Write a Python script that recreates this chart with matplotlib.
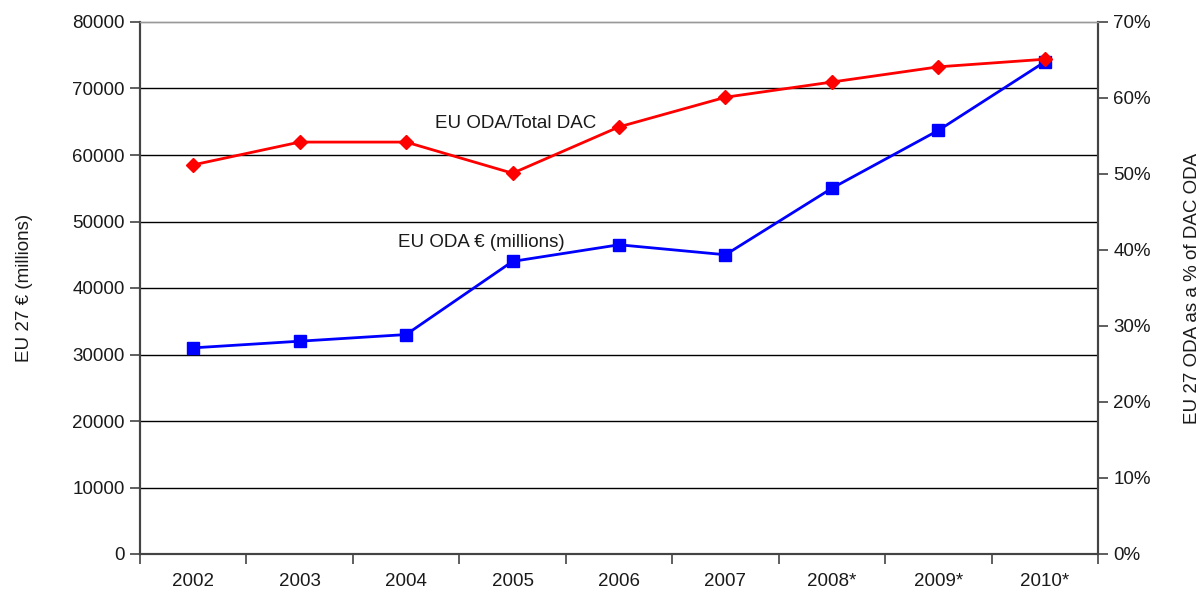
import matplotlib
matplotlib.use("Agg")
import matplotlib.pyplot as plt
from matplotlib.ticker import FixedLocator

plt.rcParams['font.family'] = ['Liberation Sans', 'DejaVu Sans']

years = ['2002', '2003', '2004', '2005', '2006', '2007', '2008*', '2009*', '2010*']
oda_eur = [31000, 32000, 33000, 44000, 46500, 45000, 55000, 63700, 74000]
oda_share = [51.2, 54.2, 54.2, 50.1, 56.2, 60.1, 62.1, 64.1, 65.1]
left_ticks = [0, 10000, 20000, 30000, 40000, 50000, 60000, 70000, 80000]
right_ticks = [0, 10, 20, 30, 40, 50, 60, 70]

txt = '#1a1a1a'
fs = 13.5
fig = plt.figure(figsize=(12.04, 5.92), dpi=100)
ax = fig.add_axes([140/1204, 1-554/592, (1098-140)/1204, (554-22)/592])
ax2 = ax.twinx()

x = list(range(len(years)))
ax.set_xlim(-0.5, len(years)-0.5)
ax.set_ylim(0, 80000)
ax2.set_ylim(0, 70)

for v in left_ticks[1:-1]:
    ax.axhline(v, color='black', lw=1.0, zorder=1)

ax.plot(x, oda_eur, color='#0000ff', lw=2, marker='s', ms=9, zorder=3)
ax2.plot(x, oda_share, color='#ff0000', lw=2, marker='D', ms=7, zorder=4)

ax.set_yticks(left_ticks)
ax.set_yticklabels([str(v) for v in left_ticks])
ax2.set_yticks(right_ticks)
ax2.set_yticklabels([f'{v}%' for v in right_ticks])

ax.set_xticks(x)
ax.set_xticklabels(years)
ax.xaxis.set_minor_locator(FixedLocator([i + 0.5 for i in range(-1, len(years))]))
ax.tick_params(axis='x', which='major', length=0, pad=14, labelsize=fs, colors=txt)
ax.tick_params(axis='x', which='minor', length=7, direction='out', width=1.2, color='#444444')
ax.tick_params(axis='y', length=7, width=1.2, color='#444444', labelsize=fs, labelcolor=txt, pad=4)
ax2.tick_params(axis='y', length=7, width=1.2, color='#444444', labelsize=fs, labelcolor=txt, pad=4)

for a in (ax, ax2):
    a.spines['top'].set_color('#999999')
    a.spines['top'].set_linewidth(1.0)
    for s in ('left', 'right', 'bottom'):
        a.spines[s].set_color('#444444')
        a.spines[s].set_linewidth(1.5)

ax.set_ylabel('EU 27 € (millions)', fontsize=fs, color=txt, labelpad=28)
ax2.set_ylabel('EU 27 ODA as a % of DAC ODA', fontsize=fs, color=txt, labelpad=24)

ax2.text(2.27, 56.6, 'EU ODA/Total DAC', fontsize=fs, color=txt, va='center', ha='left')
ax.text(1.92, 46800, 'EU ODA € (millions)', fontsize=fs, color=txt, va='center', ha='left')

fig.savefig('out.png', dpi=100)
